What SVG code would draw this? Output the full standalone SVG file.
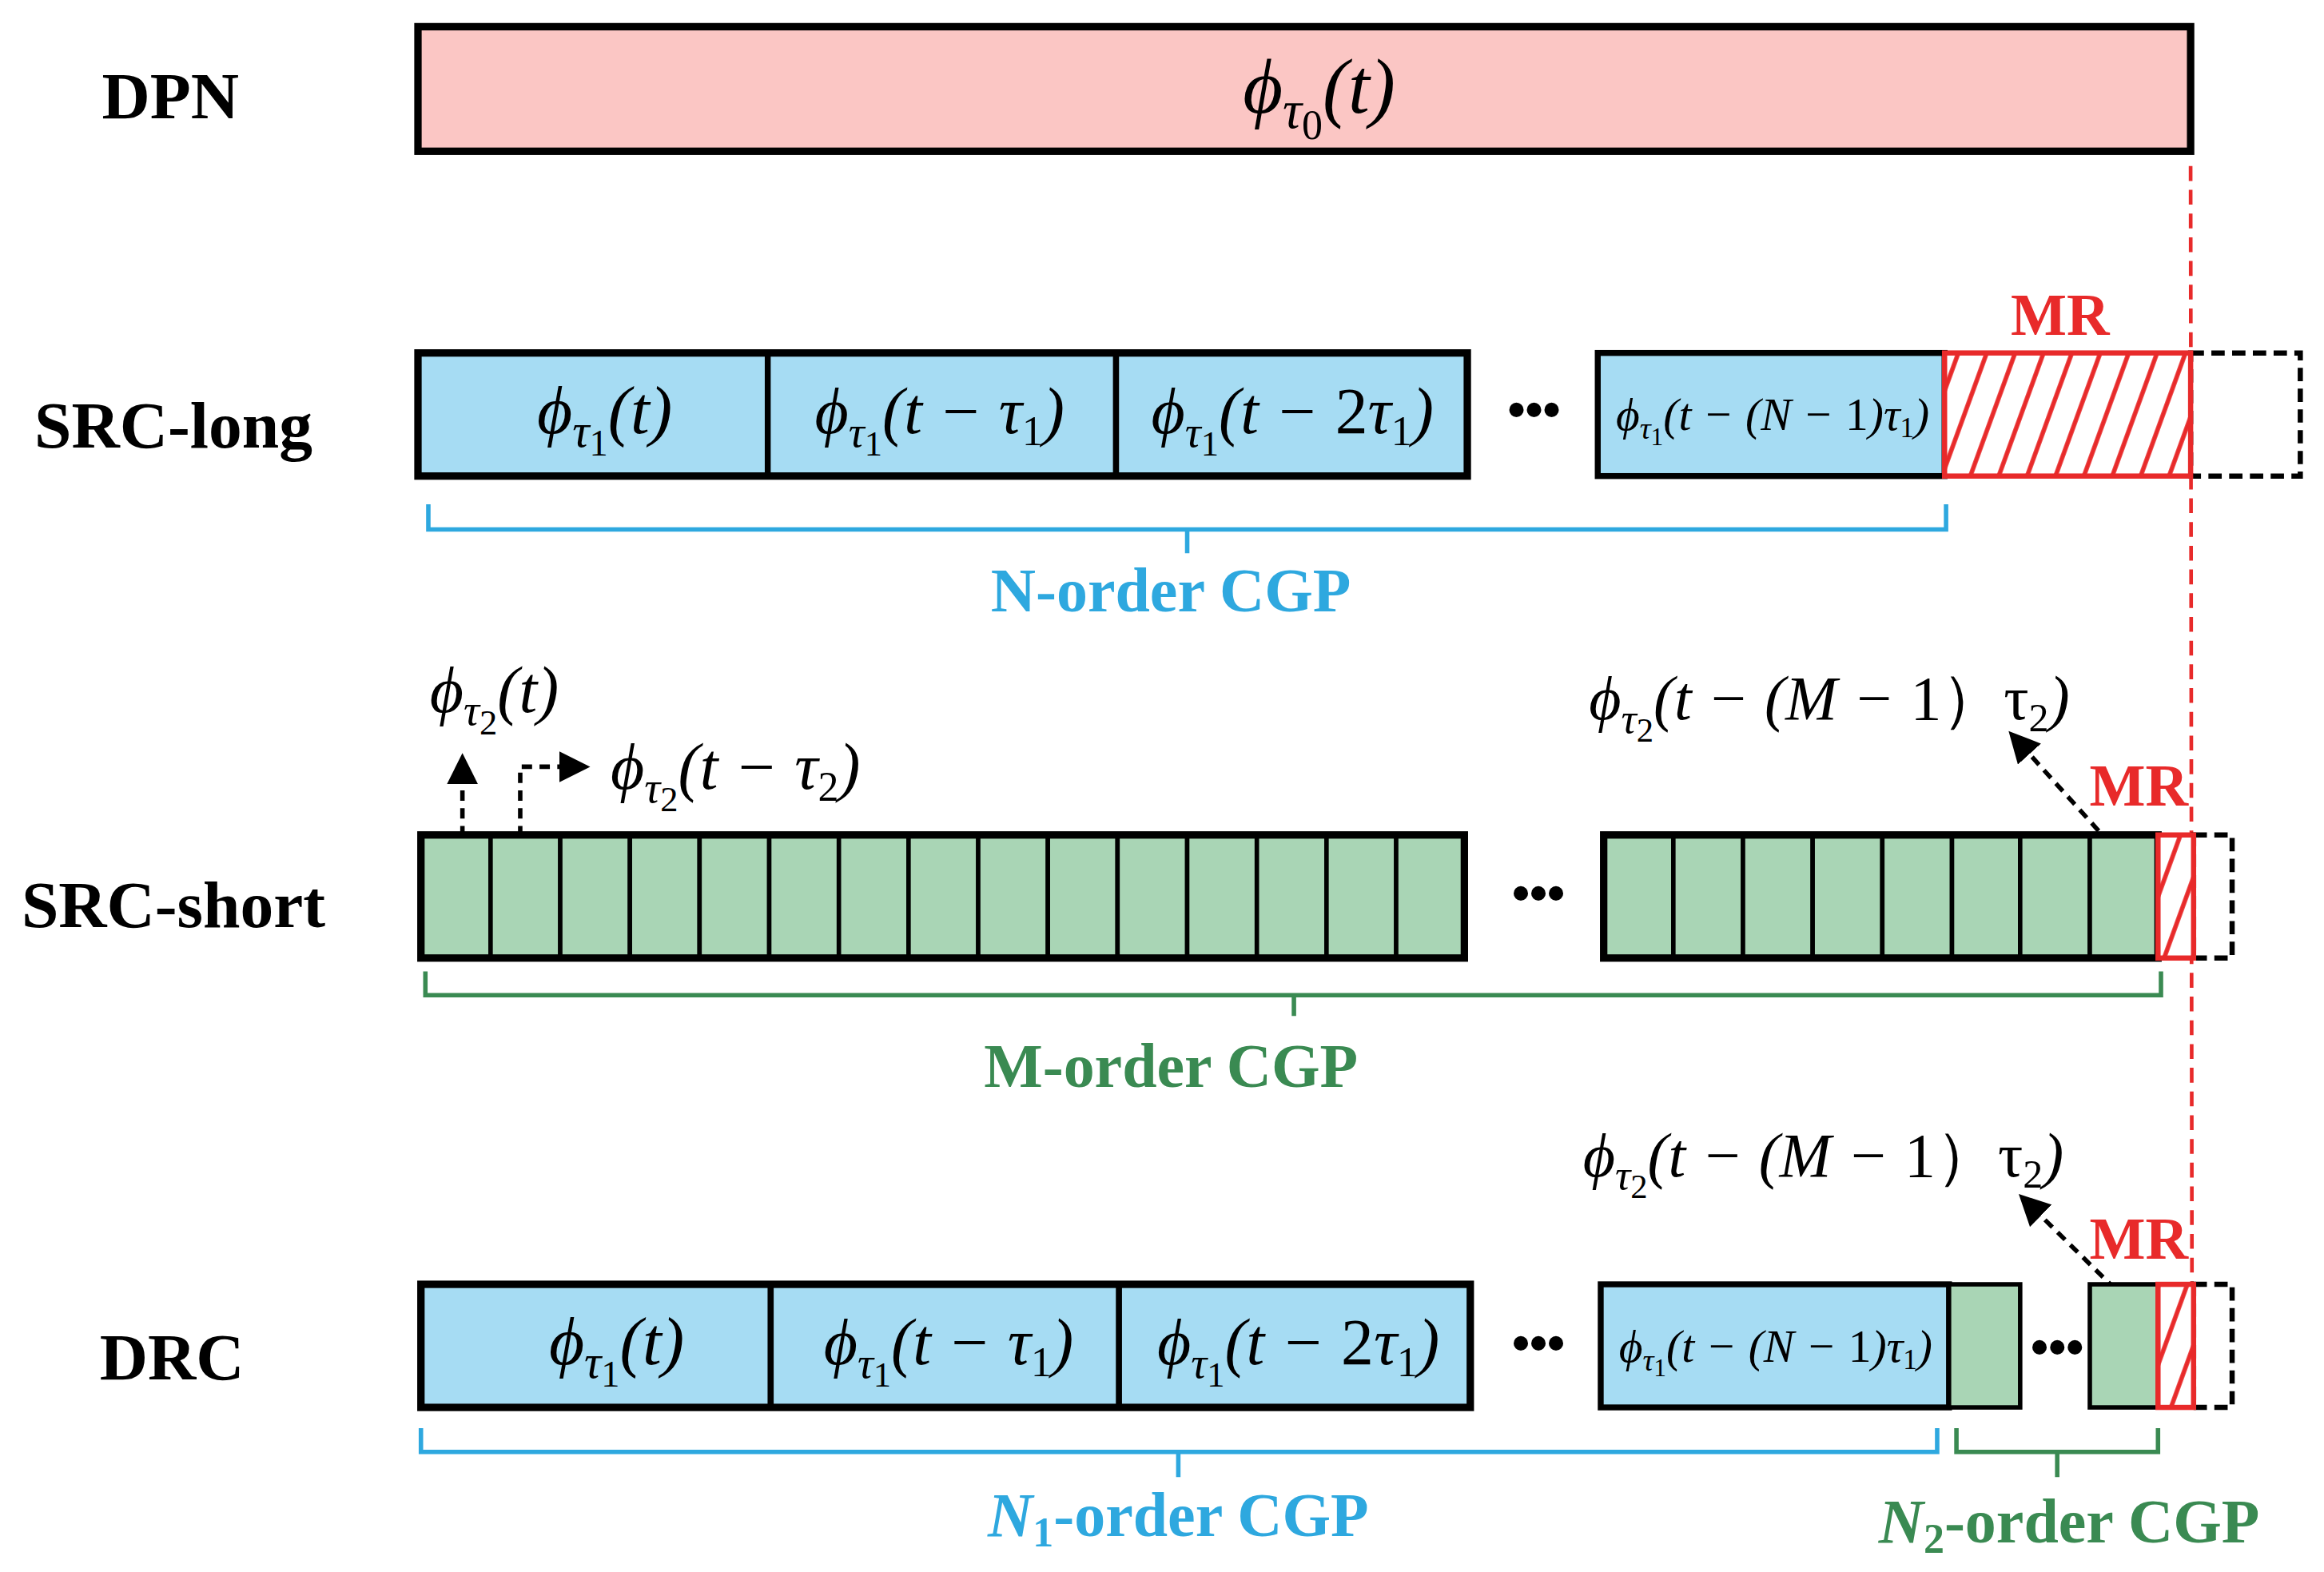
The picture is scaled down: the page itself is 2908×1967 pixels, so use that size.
<svg xmlns="http://www.w3.org/2000/svg" width="2908" height="1967" viewBox="0 0 2908 1967">
<style>
.lbl{font-family:"Liberation Serif",serif;font-weight:bold;font-size:45px;fill:#000}
.f{font-family:"Liberation Serif",serif;font-style:italic;fill:#000}
.up{font-style:normal}
.blue{fill:#a6dcf3;stroke:#000;stroke-width:4}
.grn{fill:#a9d5b5;stroke:#000;stroke-width:3}
.ob{fill:none;stroke:#000;stroke-width:5}
.dbox{fill:none;stroke:#000;stroke-width:3.5;stroke-dasharray:9 5}
.mr{fill:url(#hatch);stroke:#e82a2a;stroke-width:3.5}
.mrt{font-family:"Liberation Serif",serif;font-weight:bold;font-size:40px;fill:#e82a2a}
.dots{font-family:"Liberation Sans",sans-serif;font-weight:bold;font-size:34px}
.cgp{font-family:"Liberation Serif",serif;font-weight:bold;font-size:42px}
.bb{fill:none;stroke:#2ea8df;stroke-width:3}
.gb{fill:none;stroke:#3a8a52;stroke-width:3}
.darr{fill:none;stroke:#000;stroke-width:3;stroke-dasharray:7 5}
</style>
<defs>
<pattern id="hatch" patternUnits="userSpaceOnUse" width="18" height="18" patternTransform="rotate(20)">
<rect width="18" height="18" fill="#fff"/>
<line x1="9" y1="0" x2="9" y2="18" stroke="#e82a2a" stroke-width="3"/>
</pattern>
<marker id="ah" viewBox="0 0 10 10" refX="8" refY="5" markerWidth="7" markerHeight="7" orient="auto"><path d="M0,0 L10,5 L0,10 z" fill="#000"/></marker>
</defs>
<rect width="2908" height="1967" fill="#fff"/>
<g transform="scale(1.8546,1.8557)">
<g id="labels">
<text class="lbl" x="115" y="80" text-anchor="middle">DPN</text>
<text class="lbl" x="117" y="302" text-anchor="middle">SRC-long</text>
<text class="lbl" x="117" y="625" text-anchor="middle">SRC-short</text>
<text class="lbl" x="116" y="930" text-anchor="middle">DRC</text>
</g>
<g id="connectors">
<line x1="1478" y1="112" x2="1479" y2="950" stroke="#e82a2a" stroke-width="2.5" stroke-dasharray="10 6"/>
<path class="darr" d="M312,600 V512" marker-end="url(#ah)"/>
<path class="darr" d="M351,600 V517 H394" marker-end="url(#ah)"/>
<path class="darr" d="M1432,578 L1358,496" marker-end="url(#ah)"/>
<path class="darr" d="M1436,878 L1365,808" marker-end="url(#ah)"/>
<path class="bb" d="M289,340 V357 H1313 V340 M801,357 V373"/>
<path class="gb" d="M287,655 V671 H1458 V655 M873,671 V685"/>
<path class="bb" d="M284,963 V979 H1307 V963 M795,979 V996"/>
<path class="gb" d="M1320,963 V979 H1456 V963 M1388,979 V996"/>
</g>
<g id="dpn">
<rect x="282" y="18" width="1196" height="84" fill="#fbc6c4" stroke="#000" stroke-width="5"/>
<text class="f" x="890" y="76" font-size="52" text-anchor="middle">ϕ<tspan font-size="36" dy="10">τ</tspan><tspan font-size="28" dy="8" class="up">0</tspan><tspan dy="-18">(t)</tspan></text>
</g>
<g id="src-long">
<rect class="blue" x="282" y="238" width="236" height="83"/>
<rect class="blue" x="518" y="238" width="235" height="83"/>
<rect class="blue" x="753" y="238" width="237" height="83"/>
<rect class="ob" x="282" y="238" width="708" height="83"/>
<rect class="blue" x="1078" y="238" width="234" height="83" stroke-width="5"/>
<rect class="dbox" x="1478" y="238" width="74" height="83"/>
<rect class="mr" x="1312" y="238" width="166" height="83"/>
<text class="mrt" x="1390" y="226" text-anchor="middle">MR</text>
<text class="dots" x="1035" y="288" text-anchor="middle">•••</text>
<text class="f" x="408" y="292" font-size="46" text-anchor="middle">ϕ<tspan font-size="32" dy="9">τ</tspan><tspan font-size="25" dy="6" class="up">1</tspan><tspan dy="-15">(t)</tspan></text>
<text class="f" x="634" y="292" font-size="44" text-anchor="middle">ϕ<tspan font-size="30" dy="9">τ</tspan><tspan font-size="24" dy="6" class="up">1</tspan><tspan dy="-15">(t − τ</tspan><tspan font-size="28" dy="8" class="up">1</tspan><tspan dy="-8">)</tspan></text>
<text class="f" x="872" y="292" font-size="44" text-anchor="middle">ϕ<tspan font-size="30" dy="9">τ</tspan><tspan font-size="24" dy="6" class="up">1</tspan><tspan dy="-15">(t − </tspan><tspan class="up">2</tspan><tspan>τ</tspan><tspan font-size="28" dy="8" class="up">1</tspan><tspan dy="-8">)</tspan></text>
<text class="f" x="1196" y="290" font-size="31" text-anchor="middle">ϕ<tspan font-size="21" dy="6">τ</tspan><tspan font-size="17" dy="4" class="up">1</tspan><tspan dy="-10">(t − (N − </tspan><tspan class="up">1</tspan><tspan>)τ</tspan><tspan font-size="19" dy="5" class="up">1</tspan><tspan dy="-5">)</tspan></text>
<text class="cgp" x="790" y="412" fill="#2ea8df" text-anchor="middle">N-order CGP</text>
</g>
<g id="src-short">
<g class="grn">
<rect x="284" y="563" width="47" height="83"/><rect x="331" y="563" width="47" height="83"/><rect x="378" y="563" width="47" height="83"/><rect x="425" y="563" width="47" height="83"/><rect x="472" y="563" width="47" height="83"/><rect x="519" y="563" width="47" height="83"/><rect x="566" y="563" width="47" height="83"/><rect x="613" y="563" width="47" height="83"/><rect x="660" y="563" width="47" height="83"/><rect x="707" y="563" width="47" height="83"/><rect x="754" y="563" width="47" height="83"/><rect x="801" y="563" width="47" height="83"/><rect x="848" y="563" width="47" height="83"/><rect x="895" y="563" width="47" height="83"/><rect x="942" y="563" width="46" height="83"/>
<rect x="1082" y="563" width="47" height="83"/><rect x="1129" y="563" width="47" height="83"/><rect x="1176" y="563" width="47" height="83"/><rect x="1223" y="563" width="47" height="83"/><rect x="1270" y="563" width="47" height="83"/><rect x="1317" y="563" width="46" height="83"/><rect x="1363" y="563" width="47" height="83"/><rect x="1410" y="563" width="46" height="83"/>
</g>
<rect class="ob" x="284" y="563" width="704" height="83"/>
<rect class="ob" x="1082" y="563" width="374" height="83"/>
<rect class="dbox" x="1480" y="563" width="26" height="83"/>
<rect class="mr" x="1456" y="563" width="24" height="83"/>
<text class="mrt" x="1443" y="543" text-anchor="middle">MR</text>
<text class="dots" x="1038" y="614" text-anchor="middle">•••</text>
<text class="f" x="290" y="480" font-size="44">ϕ<tspan font-size="30" dy="9">τ</tspan><tspan font-size="24" dy="6" class="up">2</tspan><tspan dy="-15">(t)</tspan></text>
<text class="f" x="412" y="532" font-size="44">ϕ<tspan font-size="30" dy="9">τ</tspan><tspan font-size="24" dy="6" class="up">2</tspan><tspan dy="-15">(t − τ</tspan><tspan font-size="28" dy="8" class="up">2</tspan><tspan dy="-8">)</tspan></text>
<text class="f" x="1072" y="485" font-size="42">ϕ<tspan font-size="29" dy="9">τ</tspan><tspan font-size="23" dy="6" class="up">2</tspan><tspan dy="-15">(t − (M − </tspan><tspan class="up">1）τ</tspan><tspan font-size="27" dy="8" class="up">2</tspan><tspan dy="-8">)</tspan></text>
<text class="cgp" x="790" y="733" fill="#3a8a52" text-anchor="middle">M-order CGP</text>
</g>
<g id="drc">
<rect class="blue" x="284" y="866" width="236" height="83"/>
<rect class="blue" x="520" y="866" width="235" height="83"/>
<rect class="blue" x="755" y="866" width="237" height="83"/>
<rect class="ob" x="284" y="866" width="708" height="83"/>
<rect class="blue" x="1080" y="866" width="235" height="83" stroke-width="5"/>
<rect class="grn" x="1315" y="866" width="48" height="83" stroke-width="5"/>
<rect class="grn" x="1410" y="866" width="46" height="83" stroke-width="5"/>
<rect class="dbox" x="1480" y="866" width="26" height="83"/>
<rect class="mr" x="1456" y="866" width="24" height="83"/>
<text class="mrt" x="1443" y="849" text-anchor="middle">MR</text>
<text class="dots" x="1038" y="917" text-anchor="middle">•••</text>
<text class="dots" x="1388" y="920" text-anchor="middle">•••</text>
<text class="f" x="416" y="920" font-size="46" text-anchor="middle">ϕ<tspan font-size="32" dy="9">τ</tspan><tspan font-size="25" dy="6" class="up">1</tspan><tspan dy="-15">(t)</tspan></text>
<text class="f" x="640" y="920" font-size="44" text-anchor="middle">ϕ<tspan font-size="30" dy="9">τ</tspan><tspan font-size="24" dy="6" class="up">1</tspan><tspan dy="-15">(t − τ</tspan><tspan font-size="28" dy="8" class="up">1</tspan><tspan dy="-8">)</tspan></text>
<text class="f" x="876" y="920" font-size="44" text-anchor="middle">ϕ<tspan font-size="30" dy="9">τ</tspan><tspan font-size="24" dy="6" class="up">1</tspan><tspan dy="-15">(t − </tspan><tspan class="up">2</tspan><tspan>τ</tspan><tspan font-size="28" dy="8" class="up">1</tspan><tspan dy="-8">)</tspan></text>
<text class="f" x="1198" y="918" font-size="31" text-anchor="middle">ϕ<tspan font-size="21" dy="6">τ</tspan><tspan font-size="17" dy="4" class="up">1</tspan><tspan dy="-10">(t − (N − </tspan><tspan class="up">1</tspan><tspan>)τ</tspan><tspan font-size="19" dy="5" class="up">1</tspan><tspan dy="-5">)</tspan></text>
<text class="f" x="1068" y="793" font-size="42">ϕ<tspan font-size="29" dy="9">τ</tspan><tspan font-size="23" dy="6" class="up">2</tspan><tspan dy="-15">(t − (M − </tspan><tspan class="up">1）τ</tspan><tspan font-size="27" dy="8" class="up">2</tspan><tspan dy="-8">)</tspan></text>
<text class="cgp" x="795" y="1036" fill="#2ea8df" text-anchor="middle"><tspan font-style="italic">N</tspan><tspan font-size="28" dy="7">1</tspan><tspan dy="-7">-order CGP</tspan></text>
<text class="cgp" x="1396" y="1040" fill="#3a8a52" text-anchor="middle"><tspan font-style="italic">N</tspan><tspan font-size="28" dy="7">2</tspan><tspan dy="-7">-order CGP</tspan></text>
</g>
</g>
</svg>
